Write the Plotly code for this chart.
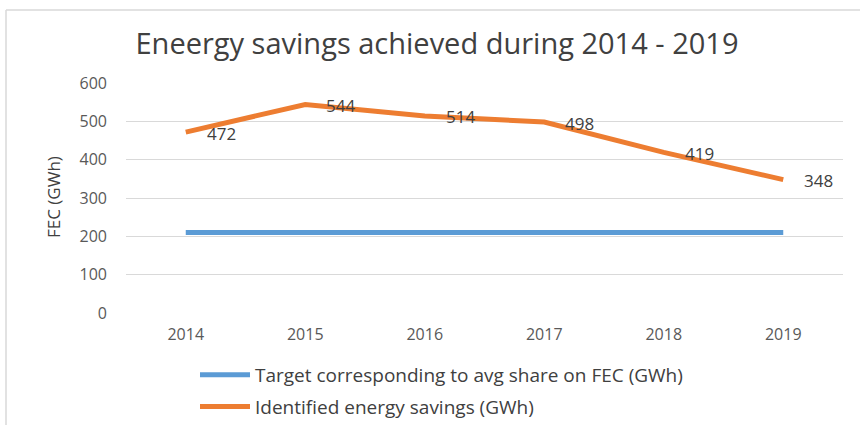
import plotly.graph_objects as go

years = ["2014", "2015", "2016", "2017", "2018", "2019"]
target = [210, 210, 210, 210, 210, 210]
savings = [472, 544, 514, 498, 419, 348]
savings_labels = ["472", "544", "514", "498", "419", "348"]

W, H = 860, 425
L, R, T, B = 126, 17, 83, 112
pw, ph = W - L - R, H - T - B

def px_x(p):
    return (p - L) / pw

def px_y(p):
    return (H - B - p) / ph

font = "Open Sans, Noto Sans, sans-serif"

fig = go.Figure()
fig.add_trace(go.Scatter(
    x=years, y=target, mode="lines",
    name="Target corresponding to avg share on FEC (GWh)",
    line=dict(color="#5B9BD5", width=5),
    legendgroup="a",
))
fig.add_trace(go.Scatter(
    x=years, y=savings, mode="lines",
    name="Identified energy savings (GWh)",
    line=dict(color="#ED7D31", width=5),
    legendgroup="b",
))

for i, (v, lab) in enumerate(zip(savings, savings_labels)):
    fig.add_annotation(x=i, y=v, text=lab, showarrow=False,
                       xanchor="left", yanchor="middle", xshift=19, yshift=-1,
                       font=dict(family=font, size=17, color="#404040"))

fig.update_layout(
    width=W, height=H,
    margin=dict(l=L, r=R, t=T, b=B, autoexpand=False),
    paper_bgcolor="white", plot_bgcolor="white",
    title=dict(text="Eneergy savings achieved during 2014 - 2019",
               x=437 / W, xref="container", xanchor="center",
               y=1 - 44 / H, yanchor="middle",
               font=dict(family=font, size=29, color="#404040")),
    showlegend=True,
    legend=dict(orientation="v", x=px_x(195), xanchor="left",
                y=px_y(356), yanchor="top",
                font=dict(family=font, size=19, color="#404040"),
                tracegroupgap=4, itemwidth=50, bgcolor="rgba(0,0,0,0)"),
    xaxis=dict(type="category", showgrid=False, showline=False, zeroline=False,
               automargin=False, ticks="", ticklabelstandoff=10,
               tickfont=dict(family=font, size=16, color="#595959"),
               range=[-0.5, 5.5]),
    yaxis=dict(range=[0, 600], dtick=100, showgrid=True, automargin=False,
               gridcolor="#D9D9D9", gridwidth=1, zeroline=False,
               showline=False, ticks="", ticklabelstandoff=18,
               tickfont=dict(family=font, size=16, color="#595959")),
)

fig.add_annotation(text="FEC (GWh)", textangle=-90, xref="paper", yref="paper",
                   x=px_x(53), y=px_y(197), xanchor="center", yanchor="middle",
                   showarrow=False,
                   font=dict(family=font, size=17, color="#404040"))

fig.add_shape(type="line", xref="paper", yref="paper",
              x0=px_x(6), x1=px_x(860), y0=px_y(10), y1=px_y(10),
              line=dict(color="#D9D9D9", width=1.5))
fig.add_shape(type="line", xref="paper", yref="paper",
              x0=px_x(6), x1=px_x(6), y0=px_y(10), y1=px_y(425),
              line=dict(color="#D9D9D9", width=1.5))

fig.write_html("out.html", config={"displayModeBar": False},
               post_script="document.body.style.margin='0';document.body.style.padding='0';")
